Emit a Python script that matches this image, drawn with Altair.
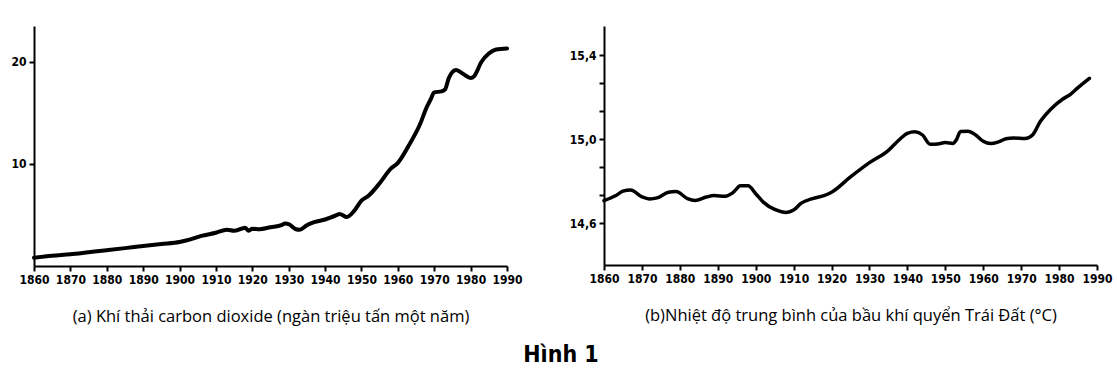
import altair as alt
import pandas as pd

# ---- data ----
co2_years = [1860, 1865, 1870, 1875, 1880, 1885, 1890, 1895, 1900, 1903, 1906, 1910,
             1913, 1915, 1917, 1918, 1919, 1920, 1922, 1925, 1928, 1929, 1930, 1932,
             1933, 1935, 1937, 1940, 1943, 1944, 1946, 1948, 1950, 1952, 1955, 1958,
             1960, 1963, 1966, 1968, 1969, 1970, 1972, 1973, 1974, 1976, 1978, 1980,
             1981, 1983, 1985, 1987, 1990]
co2_values = [0.8, 1.0, 1.15, 1.35, 1.55, 1.75, 1.95, 2.15, 2.35, 2.6, 2.95, 3.25,
              3.55, 3.45, 3.65, 3.75, 3.45, 3.65, 3.6, 3.8, 4.0, 4.15, 4.1, 3.6,
              3.55, 4.0, 4.3, 4.55, 4.95, 5.1, 4.8, 5.4, 6.4, 6.9, 8.1, 9.5,
              10.1, 11.8, 13.8, 15.6, 16.3, 17.0, 17.1, 17.3, 18.4, 19.2, 18.8, 18.4,
              18.6, 20.0, 20.8, 21.2, 21.3]

temp_years = [1860, 1863, 1865, 1867, 1870, 1872, 1874, 1877, 1879, 1882, 1884, 1887,
              1889, 1892, 1894, 1896, 1898, 1900, 1902, 1905, 1908, 1910, 1912, 1915,
              1918, 1920, 1925, 1930, 1935, 1938, 1940, 1942, 1944, 1946, 1948, 1950,
              1952, 1953, 1954, 1956, 1958, 1960, 1962, 1964, 1966, 1968, 1971, 1973,
              1975, 1978, 1981, 1983, 1985, 1988]
temp_values = [14.707, 14.73, 14.752, 14.758, 14.725, 14.715, 14.72, 14.747, 14.75, 14.717, 14.708, 14.724,
               14.731, 14.728, 14.745, 14.778, 14.778, 14.74, 14.70, 14.665, 14.651, 14.662, 14.695, 14.717,
               14.731, 14.747, 14.82, 14.888, 14.947, 15.0, 15.028, 15.035, 15.02, 14.976, 14.977, 14.984,
               14.98, 15.0, 15.037, 15.038, 15.02, 14.99, 14.979, 14.987, 15.002, 15.006, 15.003, 15.02,
               15.083, 15.147, 15.192, 15.214, 15.246, 15.29]

x_ticks = [1860, 1870, 1880, 1890, 1900, 1910, 1920, 1930, 1940, 1950, 1960, 1970, 1980, 1990]
co2_ticks = [10, 20]
temp_ticks = [14.6, 14.7333, 14.8667, 15.0, 15.1333, 15.2667, 15.4]

caption_a = "(a) Khí thải carbon dioxide (ngàn triệu tấn một năm)"
caption_b = "(b)Nhiệt độ trung bình của bầu khí quyển Trái Đất (°C)"
figure_title = "Hình 1"

co2_df = pd.DataFrame({"year": co2_years, "value": co2_values})
temp_df = pd.DataFrame({"year": temp_years, "value": temp_values})

LABEL_FONT = "DejaVu Sans Condensed"
CAPTION_FONT = "Open Sans"

common_axis = dict(
    grid=False, domainColor="black", domainWidth=2, tickColor="black", tickWidth=2,
    tickSize=5, labelFont=LABEL_FONT, labelFontSize=12, labelFontWeight="bold",
    labelColor="black", labelOverlap=False,
)


def x_axis(title):
    return alt.Axis(values=x_ticks, format="d", title=title, labelFlush=False,
                    labelPadding=3, titleFont=CAPTION_FONT, titleFontSize=16.5,
                    titleFontWeight="normal", titleColor="black", titlePadding=23,
                    **common_axis)


left = alt.Chart(co2_df).mark_line(
    color="black", strokeWidth=4, interpolate="monotone", strokeCap="round", strokeJoin="round"
).encode(
    x=alt.X("year:Q", scale=alt.Scale(domain=[1860, 1990], nice=False, zero=False),
            axis=x_axis(caption_a)),
    y=alt.Y("value:Q", scale=alt.Scale(domain=[0, 23.5], nice=False),
            axis=alt.Axis(values=co2_ticks, format="d", title=None, labelPadding=3,
                          minExtent=34, maxExtent=34, **common_axis)),
).properties(width=473, height=240)

right = alt.Chart(temp_df).mark_line(
    color="black", strokeWidth=3.5, interpolate="monotone", strokeCap="round", strokeJoin="round"
).encode(
    x=alt.X("year:Q", scale=alt.Scale(domain=[1860, 1990], nice=False, zero=False),
            axis=x_axis(caption_b)),
    y=alt.Y("value:Q", scale=alt.Scale(domain=[14.4, 15.54], nice=False, zero=False),
            axis=alt.Axis(values=temp_ticks, title=None, labelPadding=3,
                          labelExpr="abs(datum.value*10 - round(datum.value*10)) < 0.01 ? replace(format(datum.value, '.1f'), '.', ',') : ''",
                          minExtent=34, maxExtent=34, **common_axis)),
).properties(width=493, height=239)

chart = alt.hconcat(left, right, spacing=46).properties(
    title=alt.TitleParams(text=figure_title, orient="bottom", anchor="middle",
                          font="DejaVu Sans Condensed",
                          fontSize=23, fontWeight="bold", color="black", offset=19, dx=5),
    padding={"left": 0, "top": 26, "right": 0, "bottom": 0},
).configure(background="white").configure_view(stroke=None)

chart.save("out.html", embed_options={"renderer": "svg", "actions": False})
